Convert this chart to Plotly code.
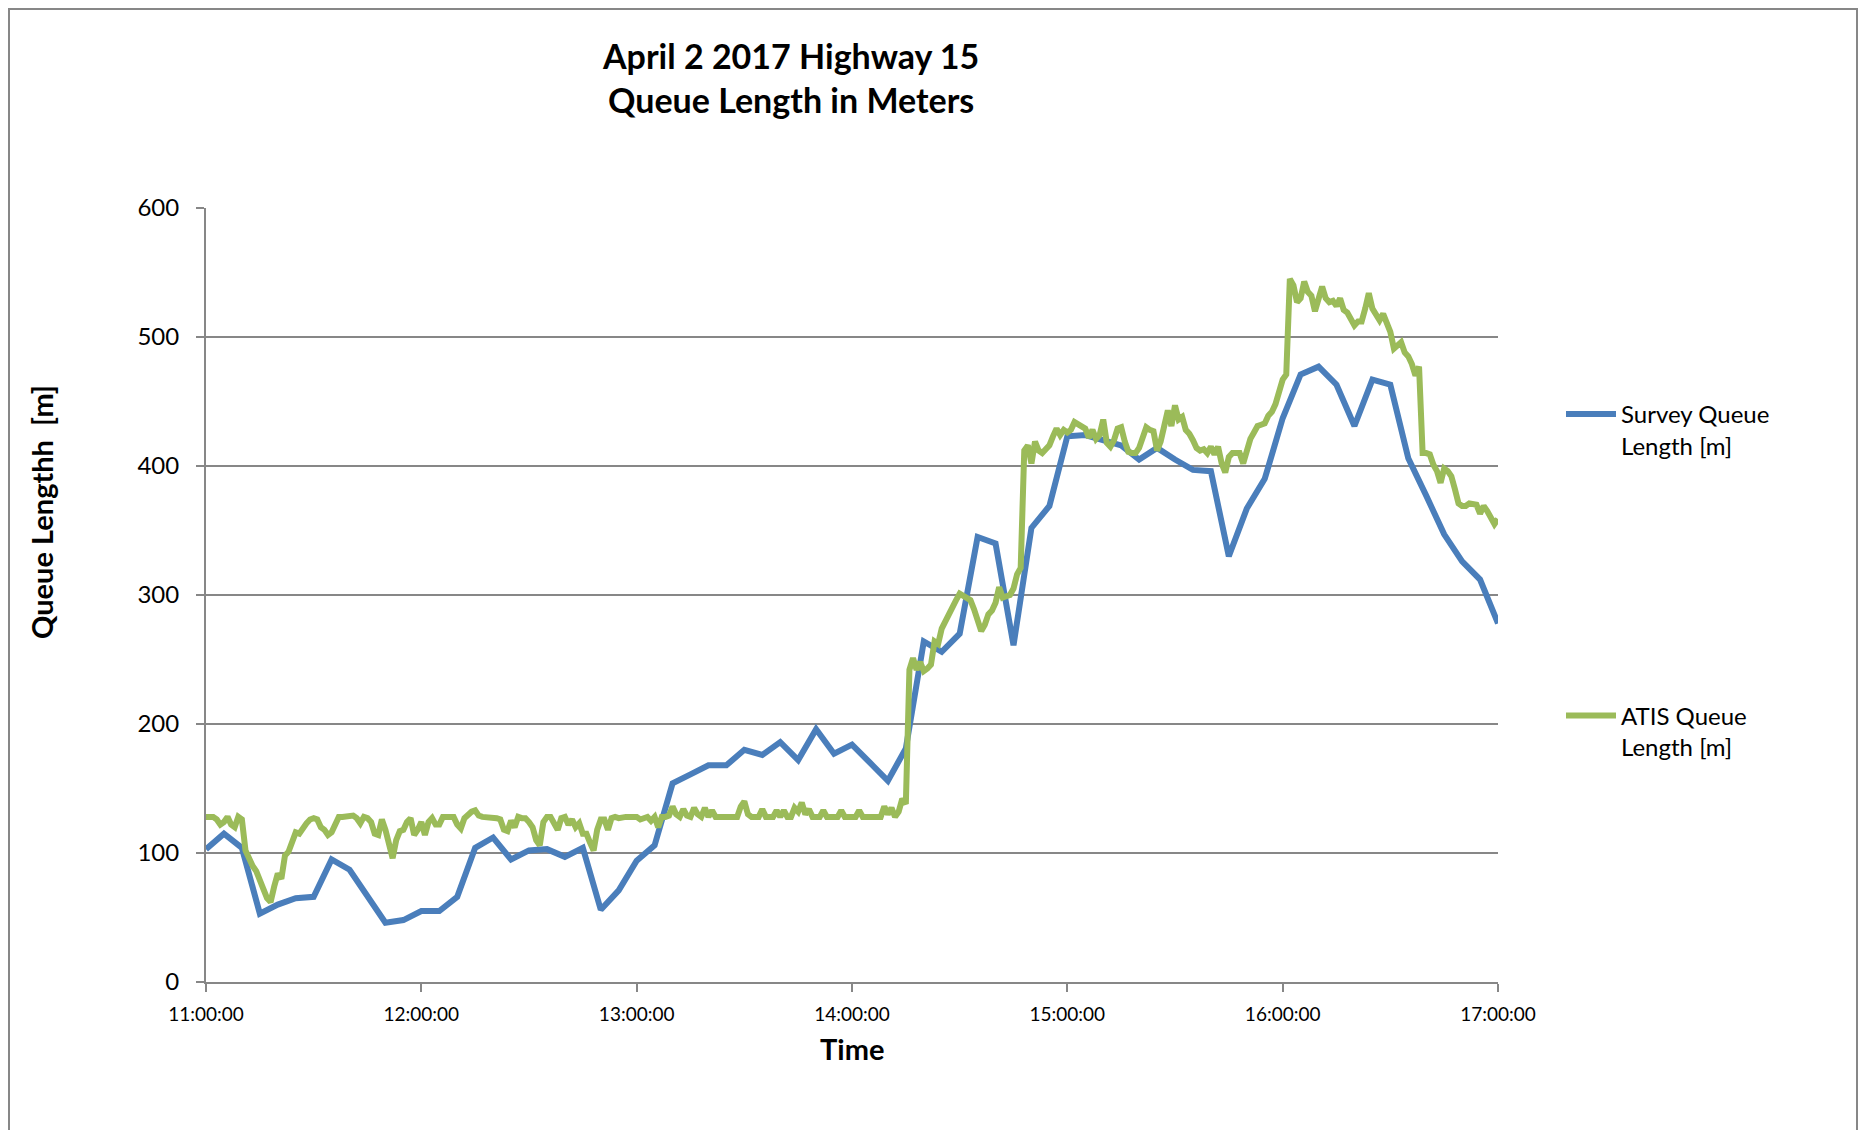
import pandas as pd
import plotly.graph_objects as go

# ---------------- data ----------------
survey_times = pd.date_range("2017-04-02 11:00:00", "2017-04-02 17:00:00", freq="5min")
survey_queue = [
    103, 115, 104, 53, 60, 65, 66, 95, 87, 67, 46, 48,          # 11:00-11:55
    55, 55, 66, 104, 112, 95, 102, 103, 97, 104, 56, 71,        # 12:00-12:55
    94, 106, 154, 161, 168, 168, 180, 176, 186, 172, 196, 177,  # 13:00-13:55
    184, 170, 156, 181, 264, 256, 270, 345, 340, 261, 352, 369, # 14:00-14:55
    423, 424, 420, 416, 405, 414, 405, 397, 396, 330, 367, 390, # 15:00-15:55
    437, 471, 477, 463, 431, 467, 463, 406, 377, 347, 326, 312, # 16:00-16:55
    278,                                                        # 17:00
]

atis_times = pd.date_range("2017-04-02 11:00:00", "2017-04-02 17:00:00", freq="1min")
atis_11 = [128, 128, 128, 126, 122, 124, 128, 122, 120, 128,
           126, 102, 95, 90, 86, 80, 72, 65, 62, 74,
           84, 80, 98, 101, 108, 116, 115, 120, 123, 126,
           127, 126, 120, 118, 114, 116, 123, 128, 128, 128,
           128, 129, 127, 123, 128, 127, 124, 115, 114, 126,
           118, 108, 96, 110, 117, 118, 124, 127, 114, 118]
atis_12 = [124, 114, 124, 127, 122, 122, 128, 128, 128, 128,
           122, 119, 127, 130, 132, 133, 129, 128, 128, 128,
           128, 127, 126, 118, 117, 125, 120, 128, 127, 127,
           124, 120, 110, 106, 124, 128, 128, 122, 118, 127,
           128, 122, 126, 120, 123, 115, 115, 108, 102, 118,
           126, 126, 118, 127, 128, 127, 128, 128, 128, 128]
atis_13 = [128, 126, 127, 128, 125, 128, 120, 128, 128, 129,
           136, 130, 128, 134, 129, 128, 135, 130, 128, 135,
           128, 133, 128, 128, 128, 128, 128, 128, 128, 136,
           140, 130, 128, 128, 128, 134, 128, 128, 128, 133,
           128, 133, 128, 128, 135, 132, 139, 130, 134, 128,
           128, 128, 133, 128, 128, 128, 128, 133, 128, 128]
atis_14 = [128, 128, 133, 128, 128, 128, 128, 128, 128, 136,
           130, 135, 128, 132, 142, 138, 242, 251, 242, 248,
           241, 243, 246, 264, 262, 274, 280, 286, 291, 296,
           301, 299, 297, 296, 289, 280, 272, 277, 285, 288,
           294, 306, 298, 299, 300, 305, 316, 321, 412, 416,
           402, 419, 412, 410, 413, 416, 423, 429, 424, 428]
atis_15 = [426, 428, 434, 432, 431, 429, 422, 428, 421, 424,
           436, 418, 415, 420, 429, 430, 419, 411, 410, 410,
           414, 421, 430, 428, 427, 412, 419, 431, 443, 431,
           447, 436, 438, 428, 425, 420, 414, 412, 413, 410,
           415, 409, 415, 402, 395, 407, 410, 410, 410, 402,
           414, 421, 426, 431, 432, 433, 439, 442, 448, 456]
atis_16 = [467, 471, 545, 540, 527, 530, 543, 535, 532, 520,
           530, 539, 530, 527, 528, 524, 530, 521, 519, 513,
           509, 512, 512, 522, 534, 522, 518, 513, 518, 510,
           504, 491, 494, 496, 488, 485, 479, 470, 477, 410,
           410, 409, 401, 396, 387, 398, 396, 392, 382, 371,
           369, 369, 371, 370, 370, 363, 369, 365, 360, 355]
atis_17 = [359]
atis_queue = atis_11 + atis_12 + atis_13 + atis_14 + atis_15 + atis_16 + atis_17

tick_vals = pd.date_range("2017-04-02 11:00:00", "2017-04-02 17:00:00", freq="1h")
tick_text = [t.strftime("%H:%M:%S") for t in tick_vals]
y_ticks = [0, 100, 200, 300, 400, 500, 600]

# ---------------- figure ----------------
BLUE = "#4A7EBB"
GREEN = "#9BBB59"
GRID = "#878787"
FONT = "Lato"

fig = go.Figure()
fig.add_trace(go.Scatter(
    x=survey_times, y=survey_queue, mode="lines",
    name="Survey Queue<br>Length [m]", legendgroup="a",
    line=dict(color=BLUE, width=6),
))
fig.add_trace(go.Scatter(
    x=atis_times, y=atis_queue, mode="lines",
    name="ATIS Queue<br>Length [m]", legendgroup="b",
    line=dict(color=GREEN, width=6),
))

OFF = 8                      # page body margin
W, H = 1866 - 2 * OFF, 1138 - 2 * OFF
# plot area in page pixels
L, R, T, B = 206, 1498, 208, 982
pw, ph = R - L, B - T

def px(x):
    return (x - L) / pw

def py(y):
    return (B - y) / ph

fig.update_layout(
    width=W, height=H,
    margin=dict(l=L - OFF, r=W - (R - OFF), t=T - OFF, b=H - (B - OFF), autoexpand=False),
    paper_bgcolor="white", plot_bgcolor="white",
    font=dict(family=FONT, color="black"),
    showlegend=True,
    legend=dict(
        x=px(1561), y=py(392), xanchor="left", yanchor="top",
        font=dict(family=FONT, size=24, color="black"),
        tracegroupgap=236, valign="top", itemwidth=50,
        bgcolor="rgba(0,0,0,0)",
    ),
    xaxis=dict(
        type="date",
        range=[tick_vals[0], tick_vals[-1]],
        tickvals=tick_vals, ticktext=tick_text,
        showgrid=False, zeroline=False,
        showline=True, linecolor=GRID, linewidth=2,
        ticks="outside", ticklen=8, tickcolor=GRID, tickwidth=2,
        tickfont=dict(family=FONT, size=19, color="black"),
        ticklabelstandoff=6,
        automargin=False,
    ),
    yaxis=dict(
        range=[0, 600], tickvals=y_ticks,
        showgrid=True, gridcolor=GRID, gridwidth=2,
        zeroline=False,
        showline=True, linecolor=GRID, linewidth=2,
        ticks="outside", ticklen=8, tickcolor=GRID, tickwidth=2,
        tickfont=dict(family=FONT, size=24, color="black"),
        ticklabelstandoff=12,
        automargin=False,
    ),
    annotations=[
        dict(text="<b>April 2 2017 Highway 15<br>Queue Length in Meters</b>",
             xref="paper", yref="paper",
             x=px(790), y=py(77), xanchor="center", yanchor="middle",
             showarrow=False, font=dict(family=FONT, size=34, color="black")),
        dict(text="<b>Time</b>", xref="paper", yref="paper",
             x=px(852), y=py(1048), xanchor="center", yanchor="middle",
             showarrow=False, font=dict(family=FONT, size=29, color="black")),
        dict(text="<b>Queue Lengthh&nbsp; [m]</b>", xref="paper", yref="paper",
             x=px(42), y=py(512), xanchor="center", yanchor="middle",
             textangle=-90, showarrow=False,
             font=dict(family=FONT, size=29, color="black")),
    ],
    shapes=[
        dict(type="rect", xref="paper", yref="paper",
             x0=px(OFF + 1), x1=px(1857), y0=py(1160), y1=py(OFF + 1),
             line=dict(color=GRID, width=2), fillcolor="rgba(0,0,0,0)",
             layer="below"),
    ],
)

fig.write_html("out.html")
